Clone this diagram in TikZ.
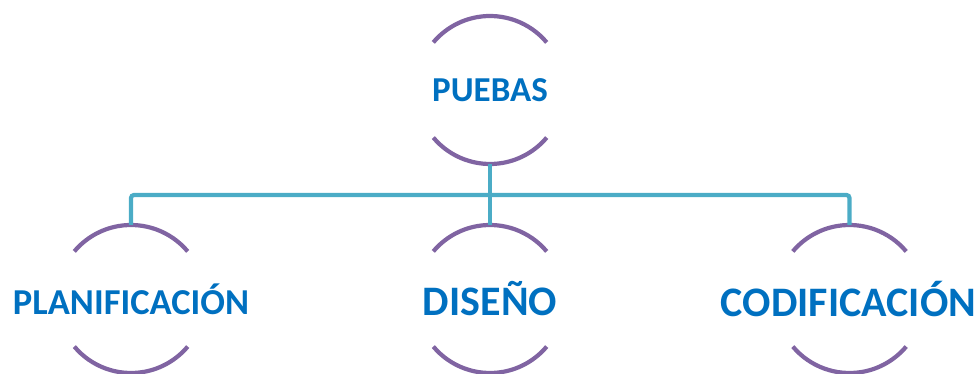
\documentclass[tikz,border=0pt]{standalone}
\usepackage{fontspec}
\setmainfont{Carlito}
\definecolor{arcpurple}{HTML}{8064A2}
\definecolor{busteal}{HTML}{4BACC6}
\definecolor{txtblue}{HTML}{0070C0}
\begin{document}
\begin{tikzpicture}[x=1pt,y=1pt,
  ring/.style={circle,minimum size=148pt,inner sep=0pt,outer sep=0pt},
  arcline/.style={draw=arcpurple,line width=4.2pt},
  conn/.style={draw=busteal,line width=4.2pt,rounded corners=3pt},
  lbl/.style={text=txtblue,font=\bfseries,inner sep=0pt}]
\useasboundingbox (0,0) rectangle (980,374);
\node[ring] (p) at (490,284) {};
\node[ring] (pl) at (131,75) {};
\node[ring] (d) at (490,75) {};
\node[ring] (co) at (849.5,75) {};
\node[lbl,font=\bfseries\fontsize{35}{40}\selectfont] (pt) at (p.center) {PUEBAS};
\node[lbl,font=\bfseries\fontsize{36.5}{42}\selectfont] (plt) at (pl.center) {PLANIFICACIÓN};
\node[lbl,font=\bfseries\fontsize{42}{48}\selectfont] (dt) at (d.center) {DISEÑO};
\node[lbl,font=\bfseries\fontsize{42}{48}\selectfont] (cot) at ([xshift=-1pt]co.center) {CODIFICACIÓN};
\coordinate (bus) at (490,179);
\foreach \n in {p,pl,d,co}{
  \draw[arcline] (\n.40) arc[start angle=40,end angle=140,radius=74pt];
  \draw[arcline] (\n.220) arc[start angle=220,end angle=320,radius=74pt];
}
\draw[conn] (p.south) -- (d.north);
\draw[conn] (pl.north) |- (bus) -| (co.north);
\end{tikzpicture}
\end{document}
